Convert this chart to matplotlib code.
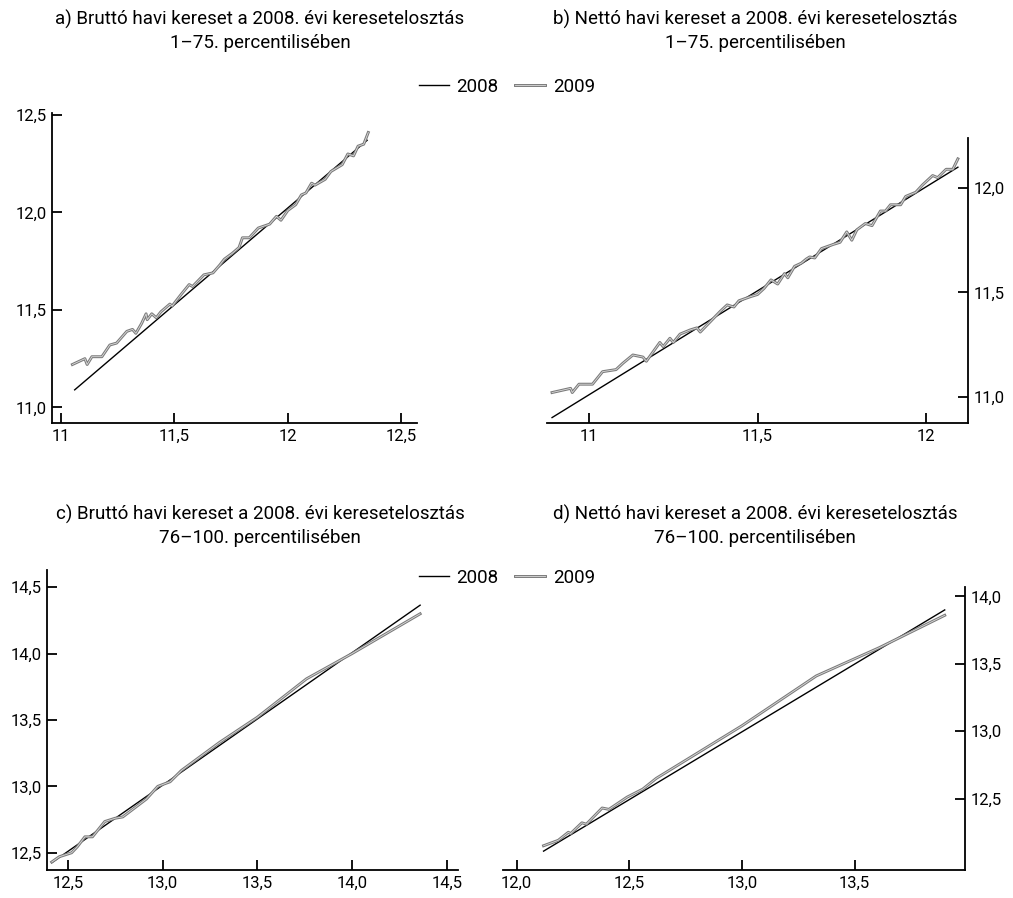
import matplotlib
matplotlib.use('Agg')
import matplotlib.pyplot as plt
import matplotlib.patheffects as pe
from matplotlib.ticker import FuncFormatter

plt.rcParams['font.family'] = ['Roboto', 'DejaVu Sans']

# a) brutto, 1-75. percentilis
a_x08 = [11.06, 12.35]
a_y08 = [11.09, 12.37]
a_x09 = [11.05, 11.105, 11.115, 11.136, 11.18, 11.215, 11.245, 11.29, 11.315, 11.33,
         11.355, 11.375, 11.38, 11.40, 11.42, 11.44, 11.48, 11.49, 11.53, 11.565,
         11.58, 11.63, 11.67, 11.70, 11.72, 11.755, 11.785, 11.80, 11.83, 11.87,
         11.92, 11.95, 11.97, 12.0, 12.035, 12.06, 12.08, 12.105, 12.12, 12.165,
         12.19, 12.24, 12.265, 12.29, 12.31, 12.335, 12.355]
a_y09 = [11.22, 11.25, 11.22, 11.26, 11.26, 11.32, 11.33, 11.39, 11.40, 11.38,
         11.43, 11.48, 11.45, 11.48, 11.46, 11.49, 11.53, 11.52, 11.58, 11.63,
         11.62, 11.68, 11.69, 11.73, 11.76, 11.79, 11.82, 11.87, 11.87, 11.92,
         11.94, 11.98, 11.96, 12.01, 12.04, 12.09, 12.10, 12.15, 12.14, 12.17,
         12.21, 12.245, 12.30, 12.29, 12.34, 12.35, 12.41]

# b) netto, 1-75. percentilis
b_x08 = [10.89, 12.095]
b_y08 = [10.90, 12.10]
b_x09 = [10.89, 10.945, 10.95, 10.97, 11.01, 11.04, 11.08, 11.10, 11.13, 11.16,
         11.17, 11.21, 11.22, 11.24, 11.25, 11.27, 11.30, 11.32, 11.33, 11.36,
         11.39, 11.41, 11.43, 11.445, 11.48, 11.50, 11.52, 11.54, 11.56, 11.58,
         11.59, 11.61, 11.63, 11.645, 11.655, 11.67, 11.69, 11.725, 11.745, 11.765,
         11.78, 11.795, 11.82, 11.84, 11.865, 11.88, 11.895, 11.925, 11.94, 11.97,
         11.99, 12.02, 12.035, 12.06, 12.08, 12.095]
b_y09 = [11.02, 11.04, 11.02, 11.06, 11.06, 11.12, 11.13, 11.16, 11.20, 11.19,
         11.17, 11.26, 11.24, 11.28, 11.26, 11.30, 11.32, 11.33, 11.31, 11.36,
         11.41, 11.44, 11.43, 11.46, 11.48, 11.49, 11.52, 11.56, 11.54, 11.59,
         11.57, 11.625, 11.64, 11.66, 11.67, 11.665, 11.71, 11.73, 11.74, 11.79,
         11.75, 11.80, 11.83, 11.82, 11.89, 11.89, 11.92, 11.92, 11.96, 11.98,
         12.015, 12.06, 12.05, 12.09, 12.09, 12.14]

# c) brutto, 76-100. percentilis
c_x08 = [12.415, 14.36]
c_y08 = [12.425, 14.365]
c_x09 = [12.415, 12.455, 12.52, 12.55, 12.59, 12.63, 12.695, 12.75, 12.79, 12.915,
         12.975, 13.04, 13.10, 13.30, 13.50, 13.76, 14.0, 14.36]
c_y09 = [12.43, 12.47, 12.50, 12.545, 12.62, 12.62, 12.735, 12.76, 12.77, 12.905,
         13.0, 13.035, 13.12, 13.33, 13.52, 13.81, 14.0, 14.30]

# d) netto, 76-100. percentilis
d_x08 = [12.12, 13.90]
d_y08 = [12.11, 13.90]
d_x09 = [12.12, 12.185, 12.23, 12.24, 12.29, 12.31, 12.38, 12.41, 12.49, 12.56,
         12.62, 13.0, 13.33, 13.61, 13.90]
d_y09 = [12.15, 12.19, 12.25, 12.24, 12.32, 12.31, 12.43, 12.42, 12.51, 12.57,
         12.65, 13.04, 13.41, 13.62, 13.86]

titles = ['a) Bruttó havi kereset a 2008. évi keresetelosztás\n1–75. percentilisében',
          'b) Nettó havi kereset a 2008. évi keresetelosztás\n1–75. percentilisében',
          'c) Bruttó havi kereset a 2008. évi keresetelosztás\n76–100. percentilisében',
          'd) Nettó havi kereset a 2008. évi keresetelosztás\n76–100. percentilisében']

W, H = 1013, 898
fig = plt.figure(figsize=(W / 100, H / 100), dpi=100)


def box(left, top, right, bottom):
    return [left / W, 1 - bottom / H, (right - left) / W, (bottom - top) / H]


def comma(fmt):
    return FuncFormatter(lambda v, p: (fmt % v).replace('.', ','))


double = [pe.Stroke(linewidth=2.1, foreground='#7a7a7a'), pe.Normal()]


def panel(rect, x08, y08, x09, y09, xlim, ylim, xticks, yticks, xfmt, yfmt, right=False):
    ax = fig.add_axes(rect)
    l08, = ax.plot(x08, y08, color='black', lw=1.0)
    l09, = ax.plot(x09, y09, color='#dcdcdc', lw=0.6, path_effects=double)
    ax.set_xlim(*xlim)
    ax.set_ylim(*ylim)
    ax.set_xticks(xticks)
    ax.set_yticks(yticks)
    ax.xaxis.set_major_formatter(xfmt)
    ax.yaxis.set_major_formatter(yfmt)
    ax.spines['top'].set_visible(False)
    if right:
        ax.spines['left'].set_visible(False)
        ax.yaxis.tick_right()
    else:
        ax.spines['right'].set_visible(False)
    for s in ax.spines.values():
        s.set_linewidth(1.3)
    ax.tick_params(direction='in', length=7, width=1.3, labelsize=12, pad=4)
    return l08, l09


def xlab(v, p):
    return ('%g' % v).replace('.', ',')


panel(box(52, 113, 417, 423), a_x08, a_y08, a_x09, a_y09,
      (10.96, 12.57), (10.92, 12.51), [11, 11.5, 12, 12.5], [11.0, 11.5, 12.0, 12.5],
      FuncFormatter(xlab), comma('%.1f'))
h = panel(box(547, 138, 968, 423), b_x08, b_y08, b_x09, b_y09,
          (10.875, 12.125), (10.874, 12.24), [11, 11.5, 12], [11.0, 11.5, 12.0],
          FuncFormatter(xlab), comma('%.1f'), right=True)
panel(box(47, 570, 458, 870), c_x08, c_y08, c_x09, c_y09,
      (12.39, 14.56), (12.37, 14.63), [12.5, 13.0, 13.5, 14.0, 14.5],
      [12.5, 13.0, 13.5, 14.0, 14.5], comma('%.1f'), comma('%.1f'))
panel(box(503, 587, 965, 870), d_x08, d_y08, d_x09, d_y09,
      (11.94, 13.99), (11.97, 14.07), [12.0, 12.5, 13.0, 13.5],
      [12.5, 13.0, 13.5, 14.0], comma('%.1f'), comma('%.1f'), right=True)

for (cx, cy), t in zip([(260, 31), (755, 31), (260, 526), (755, 526)], titles):
    fig.text(cx / W, 1 - cy / H, t, ha='center', va='center', fontsize=13.5,
             linespacing=1.35)

for cy in [87, 578]:
    fig.legend(h, ['2008', '2009'], loc='center', bbox_to_anchor=(507 / W, 1 - cy / H),
               ncol=2, frameon=False, fontsize=13.5, handlelength=1.6,
               handletextpad=0.4, columnspacing=0.9, borderpad=0, borderaxespad=0)

fig.savefig('out.png', dpi=100)
